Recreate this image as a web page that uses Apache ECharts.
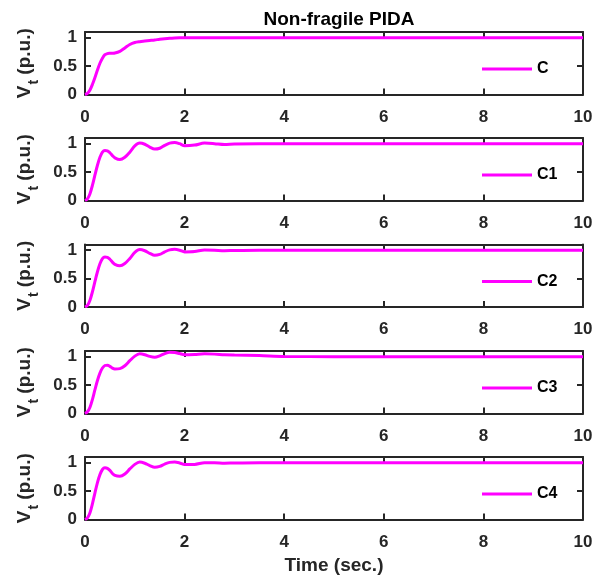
<!DOCTYPE html>
<html>
<head>
<meta charset="utf-8">
<script src="https://cdn.jsdelivr.net/npm/echarts@6/dist/echarts.min.js"></script>
<style>html,body{margin:0;padding:0;background:#fff;}#c{width:610px;height:581px;}</style>
</head>
<body>
<div id="c"></div>
<script>
// ---- data ----
const time = [0,0.05,0.1,0.15,0.2,0.25,0.3,0.35,0.4,0.45,0.5,0.55,0.6,
  0.7,0.8,0.9,1.0,1.1,1.2,1.3,1.4,1.5,1.6,1.7,1.8,1.9,2.0,
  2.2,2.4,2.6,2.8,3.0,
  3.5,4,5,6,7,8,9,10];
const seriesNames = ['C','C1','C2','C3','C4'];
const vC = [0,0.02,0.08,0.18,0.30,0.43,0.55,0.64,0.70,0.72,0.725,0.727,0.73,
  0.76,0.82,0.88,0.915,0.93,0.94,0.95,0.96,0.972,0.982,0.99,0.995,0.998,1.0,
  1,1,1,1,1,
  1,1,1,1,1,1,1,1];
const vC1 = [0,0.03,0.12,0.27,0.45,0.62,0.76,0.85,0.88,0.875,0.84,0.79,0.75,
  0.72,0.76,0.85,0.96,1.01,0.99,0.94,0.905,0.92,0.97,1.01,1.02,1.0,0.965,
  0.975,1.01,1.0,0.985,0.995,
  1,1,1,1,1,1,1,1];
const vC2 = [0,0.03,0.12,0.27,0.45,0.62,0.76,0.85,0.88,0.875,0.84,0.79,0.75,
  0.725,0.765,0.855,0.96,1.01,0.99,0.945,0.91,0.925,0.97,1.005,1.015,1.0,0.97,
  0.975,1.005,1.0,0.99,0.995,
  1,1,1,1,1,1,1,1];
const vC3 = [0,0.03,0.11,0.25,0.42,0.58,0.71,0.80,0.845,0.85,0.83,0.80,0.785,
  0.79,0.84,0.93,1.01,1.05,1.035,1.005,0.99,1.015,1.055,1.08,1.075,1.055,1.035,
  1.04,1.05,1.045,1.035,1.03,
  1.02,1.005,1,1,1,1,1,1];
const vC4 = [0,0.03,0.12,0.28,0.47,0.65,0.79,0.88,0.91,0.9,0.865,0.81,0.775,
  0.76,0.80,0.89,0.97,1.01,0.99,0.95,0.92,0.935,0.975,1.005,1.01,0.995,0.97,
  0.97,1.0,1.0,0.99,0.995,
  1,1,1,1,1,1,1,1];
const allValues = [vC, vC1, vC2, vC3, vC4];
const xTicks = [0,2,4,6,8,10];
const yTicks = [0,0.5,1];
const titleText = 'Non-fragile PIDA';
const xName = 'Time (sec.)';

// ---- layout ----
const gridTops = [32, 138, 244.5, 351, 457];
const gridH = 62.5;
const axisColor = '#262626';
const font = '"Liberation Sans", Arial, sans-serif';
const lineColor = '#FF00FF';

const grids = [], xAxes = [], yAxes = [], series = [], legends = [];
gridTops.forEach((top, i) => {
  grids.push({left: 85, right: 27, top: top, height: gridH, show: false});
  const axLine = {show: true, onZero: false, lineStyle: {color: axisColor, width: 2}};
  const tick = {show: true, inside: true, length: 6, lineStyle: {color: axisColor, width: 2}};
  xAxes.push({
    type: 'value', gridIndex: i, position: 'bottom', min: 0, max: 10, interval: 2,
    axisLine: axLine, axisTick: Object.assign({customValues: xTicks}, tick),
    splitLine: {show: false},
    axisLabel: {customValues: xTicks, margin: 14, color: axisColor, fontFamily: font, fontWeight: 'bold', fontSize: 17},
    name: i === 4 ? xName : '', nameLocation: 'middle', nameGap: 37,
    nameTextStyle: {color: axisColor, fontFamily: font, fontWeight: 'bold', fontSize: 19}
  });
  xAxes.push({
    type: 'value', gridIndex: i, position: 'top', min: 0, max: 10, interval: 2,
    axisLine: axLine, axisTick: Object.assign({customValues: xTicks}, tick),
    splitLine: {show: false}, axisLabel: {show: false}
  });
  yAxes.push({
    type: 'value', gridIndex: i, position: 'left', min: 0, max: 1.1,
    axisLine: axLine, axisTick: Object.assign({customValues: yTicks}, tick),
    splitLine: {show: false},
    axisLabel: {customValues: yTicks, margin: 8, color: axisColor, fontFamily: font, fontWeight: 'bold', fontSize: 17,
      formatter: v => String(v)},
    name: '{v|V}{s|t}{v| (p.u.)}', nameLocation: 'middle', nameGap: 44, nameRotate: 90,
    nameTextStyle: {
      color: axisColor, fontFamily: font, fontWeight: 'bold', fontSize: 19,
      rich: {
        v: {fontFamily: font, fontWeight: 'bold', fontSize: 19, color: axisColor, padding: [0,0,7,0], verticalAlign: 'bottom'},
        s: {fontFamily: font, fontWeight: 'bold', fontSize: 14, color: axisColor, verticalAlign: 'bottom', padding: [0,0,0,1]}
      }
    }
  });
  yAxes.push({
    type: 'value', gridIndex: i, position: 'right', min: 0, max: 1.1,
    axisLine: axLine, axisTick: Object.assign({customValues: yTicks}, tick),
    splitLine: {show: false}, axisLabel: {show: false}
  });
  series.push({
    name: seriesNames[i], type: 'line', xAxisIndex: 2 * i, yAxisIndex: 2 * i,
    data: time.map((t, k) => [t, allValues[i][k]]),
    showSymbol: false, symbol: 'none', smooth: 0.3,
    lineStyle: {color: lineColor, width: 3}, itemStyle: {color: lineColor},
    animation: false
  });
  legends.push({
    data: [seriesNames[i]], left: 482, top: top + 37 - 8, padding: 0,
    icon: 'rect', itemWidth: 50, itemHeight: 3, itemGap: 0,
    textStyle: {color: '#000', fontFamily: font, fontWeight: 'bold', fontSize: 16},
    selectedMode: false
  });
});

const chart = echarts.init(document.getElementById('c'), null, {renderer: 'canvas'});
chart.setOption({
  backgroundColor: '#fff',
  animation: false,
  title: {text: titleText, left: 334, top: 5, textAlign: 'center',
    textStyle: {color: '#000', fontFamily: font, fontWeight: 'bold', fontSize: 19}},
  grid: grids, xAxis: xAxes, yAxis: yAxes, series: series, legend: legends
});
</script>
</body>
</html>
